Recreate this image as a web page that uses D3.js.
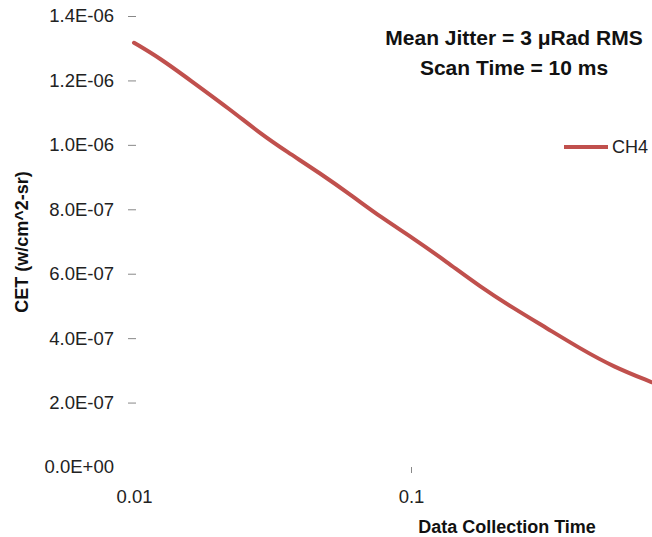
<!DOCTYPE html>
<html>
<head>
<meta charset="utf-8">
<script src="https://cdn.jsdelivr.net/npm/d3@7"></script>
<style>
  body { margin: 0; background: #fff; }
  svg { display: block; font-family: "Liberation Sans", Arial, sans-serif; }
</style>
</head>
<body>
<svg id="chart" width="652" height="537"></svg>
<script>
// data (x is log scale)
var collectionTime = [0.01, 0.01241, 0.01593, 0.02222, 0.0285, 0.03558, 0.04694, 0.06189, 0.0773,
  0.1019, 0.1345, 0.1775, 0.2341, 0.309, 0.4074, 0.5375, 0.7413];
var cetCH4 = [1.317e-6, 1.269e-6, 1.201e-6, 1.110e-6, 1.036e-6, 0.979e-6, 0.912e-6, 0.839e-6, 0.777e-6,
  0.710e-6, 0.637e-6, 0.560e-6, 0.493e-6, 0.431e-6, 0.368e-6, 0.311e-6, 0.263e-6];
var yTicks = [0, 2e-7, 4e-7, 6e-7, 8e-7, 1e-6, 1.2e-6, 1.4e-6];
var xTicks = [0.01, 0.1];
var xTickLabels = ["0.01", "0.1"];
var seriesName = "CH4";
var titleLines = ["Mean Jitter = 3 \u03bcRad RMS", "Scan Time = 10 ms"];

var svg = d3.select("#chart");
var lineColor = "#c0504d";

var x = d3.scaleLog().domain([0.01, 1]).range([134, 688]);
var y = d3.scaleLinear().domain([0, 1.4e-6]).range([467, 16]);

function sci(v) {
  if (v === 0) return "0.0E+00";
  var p = v.toExponential(1).split("e");
  var e = +p[1];
  return p[0] + "E" + (e < 0 ? "-" : "+") + (Math.abs(e) < 10 ? "0" : "") + Math.abs(e);
}

// y axis
var yAxis = svg.append("g")
  .attr("transform", "translate(136,0)")
  .call(d3.axisLeft(y).tickValues(yTicks).tickSize(8).tickPadding(14).tickFormat(sci));
yAxis.select(".domain").remove();
yAxis.selectAll(".tick line").attr("stroke", "#888");
yAxis.selectAll(".tick").filter(function (d) { return d === 0; }).select("line").remove();
yAxis.selectAll(".tick text").attr("font-size", 18.5).attr("fill", "#222")
  .attr("font-family", "Liberation Sans, Arial, sans-serif");

// x axis
var xAxis = svg.append("g")
  .attr("transform", "translate(0,467)")
  .call(d3.axisBottom(x).tickValues(xTicks).tickSize(6).tickPadding(17)
    .tickFormat(function (d, i) { return xTickLabels[i]; }));
xAxis.select(".domain").remove();
xAxis.selectAll(".tick line").attr("stroke", "#888");
xAxis.selectAll(".tick").filter(function (d) { return d === 0.01; }).select("line").remove();
xAxis.selectAll(".tick text").attr("font-size", 18.5).attr("fill", "#222")
  .attr("font-family", "Liberation Sans, Arial, sans-serif");

// series
var pts = collectionTime.map(function (t, i) { return [t, cetCH4[i]]; });
var line = d3.line()
  .x(function (d) { return x(d[0]); })
  .y(function (d) { return y(d[1]); })
  .curve(d3.curveBasis);
svg.append("path")
  .datum(pts)
  .attr("d", line)
  .attr("fill", "none")
  .attr("stroke", lineColor)
  .attr("stroke-width", 4)
  .attr("stroke-linecap", "round");

// axis titles
svg.append("text")
  .attr("x", 507).attr("y", 533)
  .attr("text-anchor", "middle")
  .attr("font-size", 18).attr("font-weight", "bold").attr("fill", "#111")
  .text("Data Collection Time");

svg.append("text")
  .attr("transform", "translate(28,242) rotate(-90)")
  .attr("text-anchor", "middle")
  .attr("font-size", 18).attr("font-weight", "bold").attr("fill", "#111")
  .text("CET (w/cm^2-sr)");

// annotation
svg.selectAll(".note")
  .data(titleLines)
  .enter().append("text")
  .attr("class", "note")
  .attr("x", 514)
  .attr("y", function (d, i) { return 45 + i * 30; })
  .attr("text-anchor", "middle")
  .attr("font-size", 21).attr("font-weight", "bold").attr("fill", "#111")
  .text(function (d) { return d; });

// legend
svg.append("line")
  .attr("x1", 564).attr("x2", 608).attr("y1", 147).attr("y2", 147)
  .attr("stroke", lineColor).attr("stroke-width", 4);
svg.append("text")
  .attr("x", 612).attr("y", 147).attr("dy", "0.35em")
  .attr("font-size", 18).attr("fill", "#222")
  .text(seriesName);
</script>
</body>
</html>
